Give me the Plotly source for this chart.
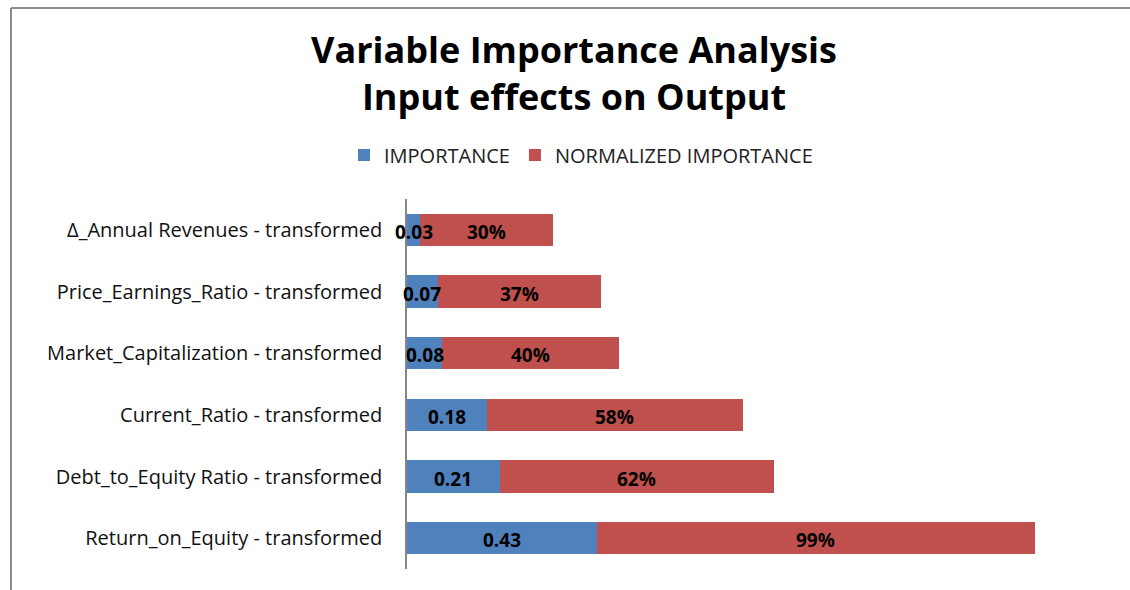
import plotly.graph_objects as go

variables = [
    "Δ_Annual Revenues - transformed",
    "Price_Earnings_Ratio - transformed",
    "Market_Capitalization - transformed",
    "Current_Ratio - transformed",
    "Debt_to_Equity Ratio - transformed",
    "Return_on_Equity - transformed",
]
importance = [0.03, 0.07, 0.08, 0.18, 0.21, 0.43]
normalized = [0.30, 0.37, 0.40, 0.58, 0.62, 0.99]

W, H = 1130, 590
L, R, T, B = 407, 30, 199, 21
px_per_unit = 442.0
xmax = (W - L - R) / px_per_unit

label_font = dict(family="Open Sans", size=19, color="black", weight="bold")

fig = go.Figure()
fig.add_trace(go.Bar(
    y=variables, x=importance, orientation="h", name="IMPORTANCE",
    marker=dict(color="#4F81BD", line=dict(width=0)),
))
fig.add_trace(go.Bar(
    y=variables, x=normalized, orientation="h", name="NORMALIZED IMPORTANCE",
    marker=dict(color="#C0504D", line=dict(width=0)),
))

# data labels on top of both segments, centred in each one
for i, v in enumerate(importance):
    fig.add_annotation(x=v / 2, y=variables[i], text=f"{v:.2f}", showarrow=False,
                       font=label_font, yshift=-2)
for i, (a, n) in enumerate(zip(importance, normalized)):
    fig.add_annotation(x=a + n / 2, y=variables[i], text=f"{n:.0%}", showarrow=False,
                       font=label_font, yshift=-2)

# outer chart frame (top and left edges visible)
fx0 = (11 - L) / (W - L - R)
fy1 = (H - B - 8) / (H - T - B)
fy0 = -B / (H - T - B) - 0.02
fig.add_shape(type="line", xref="paper", yref="paper", x0=fx0, x1=1.2, y0=fy1, y1=fy1,
              line=dict(color="#8a8a8a", width=2))
fig.add_shape(type="line", xref="paper", yref="paper", x0=fx0, x1=fx0, y0=fy0, y1=fy1,
              line=dict(color="#8a8a8a", width=2))

fig.update_layout(
    width=W, height=H,
    margin=dict(l=L, r=R, t=T, b=B),
    paper_bgcolor="white", plot_bgcolor="white",
    barmode="stack", bargap=0.48,
    title=dict(
        text="Variable Importance Analysis<br>Input effects on Output",
        x=574 / W, xanchor="center", xref="container",
        y=1 - 63 / H, yanchor="top", yref="container",
        font=dict(family="Open Sans", size=36, color="black", weight="bold"),
    ),
    legend=dict(
        orientation="h", x=581 / W, xanchor="center", xref="container",
        y=1 - 155 / H, yanchor="middle", yref="container",
        font=dict(family="Open Sans", size=20, color="#222222"),
        traceorder="normal", itemwidth=30,
    ),
    xaxis=dict(range=[0, xmax], showgrid=False, showticklabels=False,
               zeroline=False, showline=False, ticks=""),
    yaxis=dict(autorange="reversed", showgrid=False, showline=True,
               linecolor="#868686", linewidth=1.5, ticks="", layer="below traces",
               ticklabelstandoff=19,
               tickfont=dict(family="Open Sans", size=20, color="#111111")),
    showlegend=True,
)

fig.write_html("out.html", config={"displayModeBar": False},
               post_script="document.body.style.margin='0';")
